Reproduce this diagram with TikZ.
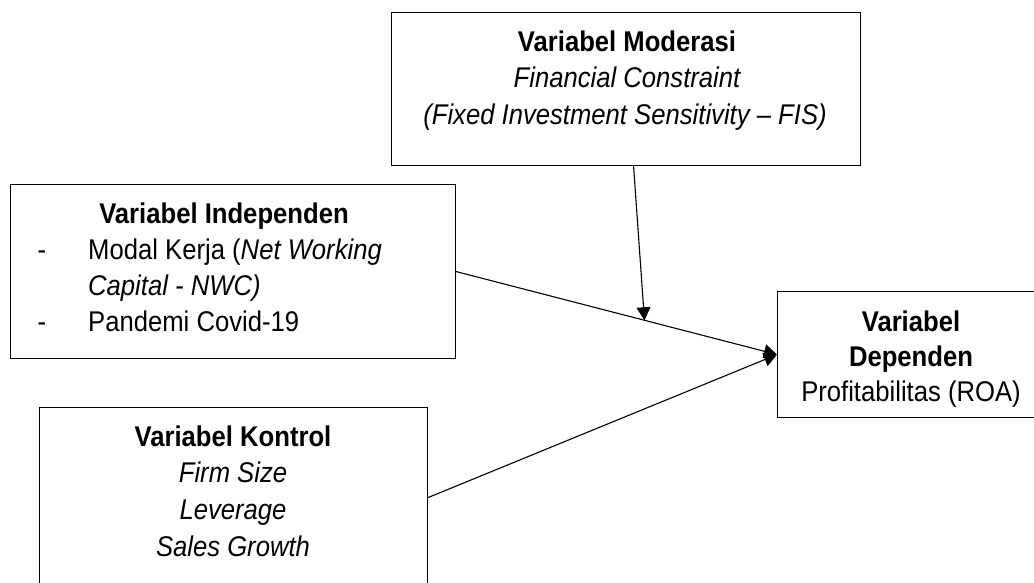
\documentclass[tikz,border=0pt]{standalone}
\usepackage{fontspec}
\setmainfont{Liberation Sans}[FakeStretch=0.9]
\usetikzlibrary{arrows.meta,calc}
\begin{document}
\begin{tikzpicture}[x=1pt,y=-1pt,
  box/.style={draw,line width=1.1pt,rectangle,inner sep=0pt,anchor=north west},
  txt/.style={anchor=base,inner sep=0pt,font=\fontsize{28.5}{36}\selectfont},
  ttl/.style={txt,font=\fontsize{28.5}{36}\selectfont\bfseries},
  lft/.style={txt,anchor=base west},
  conn/.style={line width=1.1pt,-{Triangle[length=13pt,width=14pt]}}]
\useasboundingbox (0,0) rectangle (1034,582);
\clip (0,0) rectangle (1034,582);
% boxes
\node[box,minimum width=469pt,minimum height=153pt] (mod) at (391,12) {};
\node[box,minimum width=445pt,minimum height=174pt] (ind) at (10,184) {};
\node[box,minimum width=388pt,minimum height=180pt] (kon) at (39,407) {};
\node[box,minimum width=270pt,minimum height=126pt] (dep) at (777,291) {};
% moderasi text
\node[ttl] (modt) at (627,51) {Variabel Moderasi};
\node[txt] (mod1) at (627,87) {\itshape Financial Constraint};
\node[txt] (mod2) at (625,124) {\itshape (Fixed Investment Sensitivity – FIS)};
% independen text
\node[ttl] (indt) at (224,223) {Variabel Independen};
\node[txt] (indd1) at (42,259) {-};
\node[lft] (ind1) at (88,259) {Modal Kerja (\textit{Net Working}};
\node[lft] (ind2) at (88,295) {\itshape Capital - NWC)};
\node[txt] (indd2) at (42,331) {-};
\node[lft] (ind3) at (88,331) {Pandemi Covid-19};
% kontrol text
\node[ttl] (kont) at (233,446) {Variabel Kontrol};
\node[txt] (kon1) at (233,482) {\itshape Firm Size};
\node[txt] (kon2) at (233,519) {\itshape Leverage};
\node[txt] (kon3) at (233,556) {\itshape Sales Growth};
% dependen text
\node[ttl] (dept1) at (911,331) {Variabel};
\node[ttl] (dept2) at (911,366) {Dependen};
\node[txt] (dep1) at (911,401) {Profitabilitas (ROA)};
% connectors
\coordinate (hit) at ($(ind.east)!0.587!(dep.west)$);
\coordinate (modsrc) at ($(mod.south)+(7.5,0)$);
\draw[conn] (ind.east) -- (dep.west);
\draw[conn] (kon.east) -- (dep.west);
\draw[conn] (modsrc) -- (hit);
\end{tikzpicture}
\end{document}
